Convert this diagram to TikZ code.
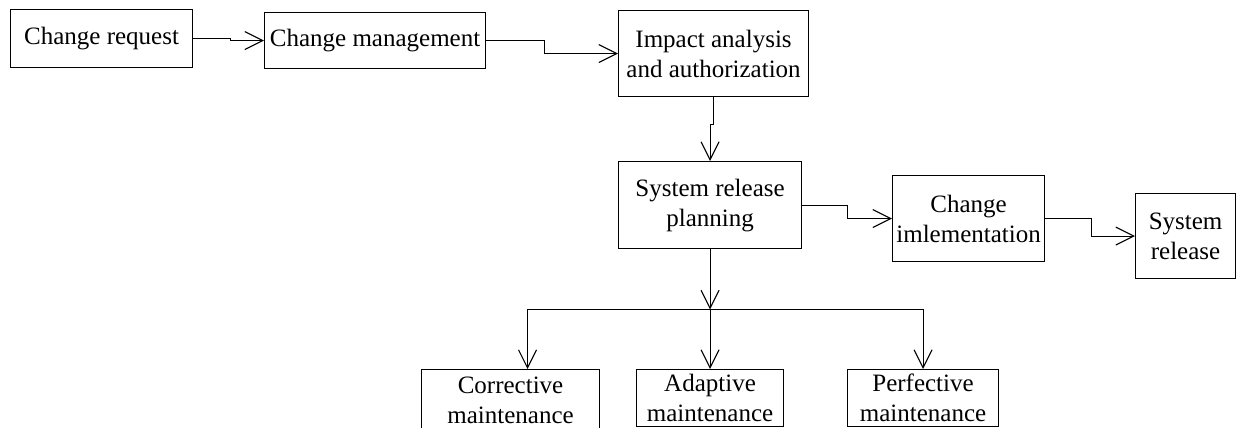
\documentclass[tikz,border=0pt]{standalone}
\usepackage{fontspec}
\setmainfont{Liberation Serif}
\usetikzlibrary{arrows.meta,calc}
\tikzset{
  box/.style={draw, line width=1.1pt, anchor=north west, inner sep=0pt,
    align=center, font=\fontsize{25}{30}\selectfont},
  arr/.style={line width=1.1pt, -{Straight Barb[length=18pt,width=18pt]}},
}
\begin{document}
\begin{tikzpicture}[x=1pt,y=-1pt]
\useasboundingbox (0,0) rectangle (1244,428);
\node[box, minimum width=182pt, minimum height=58pt] (cr) at (10,9) {Change request};
\node[box, minimum width=221pt, minimum height=56pt] (cm) at (264,12) {Change management};
\node[box, minimum width=190pt, minimum height=86pt] (ia) at (618,10) {Impact analysis\\and authorization};
\node[box, minimum width=183pt, minimum height=87pt] (srp) at (618,161) {System release\\planning};
\node[box, minimum width=152pt, minimum height=86pt] (ci) at (892,175) {Change\\imlementation};
\node[box, minimum width=100pt, minimum height=85pt] (sr) at (1135,193) {System\\release};
\node[box, minimum width=178pt, minimum height=62pt] (corr) at (421,369) {Corrective\\maintenance};
\node[box, minimum width=147pt, minimum height=57pt] (adp) at (636,369) {Adaptive\\maintenance};
\node[box, minimum width=151pt, minimum height=57pt] (perf) at (847,369) {Perfective\\maintenance};

\draw[arr] (cr.east) -- ++(37,0) |- (cm.west);
\draw[arr] (cm.east) -- ++(58,0) |- (ia.west);
\draw[arr] (ia.south) -- ++(0,27) -| (srp.north);
\draw[arr] (srp.east) -- ++(45,0) |- (ci.west);
\draw[arr] (ci.east) -- ++(46,0) |- (sr.west);

\coordinate (cl) at (527.5,309.5);
\coordinate (bar) at (srp.south |- cl);
\draw[arr] (srp.south) -- (bar);
\draw[arr] (bar) -- (cl) -- (cl |- corr.north);
\draw[arr] (bar) -- (adp.north);
\draw[arr] (bar) -| (perf.north);
\end{tikzpicture}
\end{document}
